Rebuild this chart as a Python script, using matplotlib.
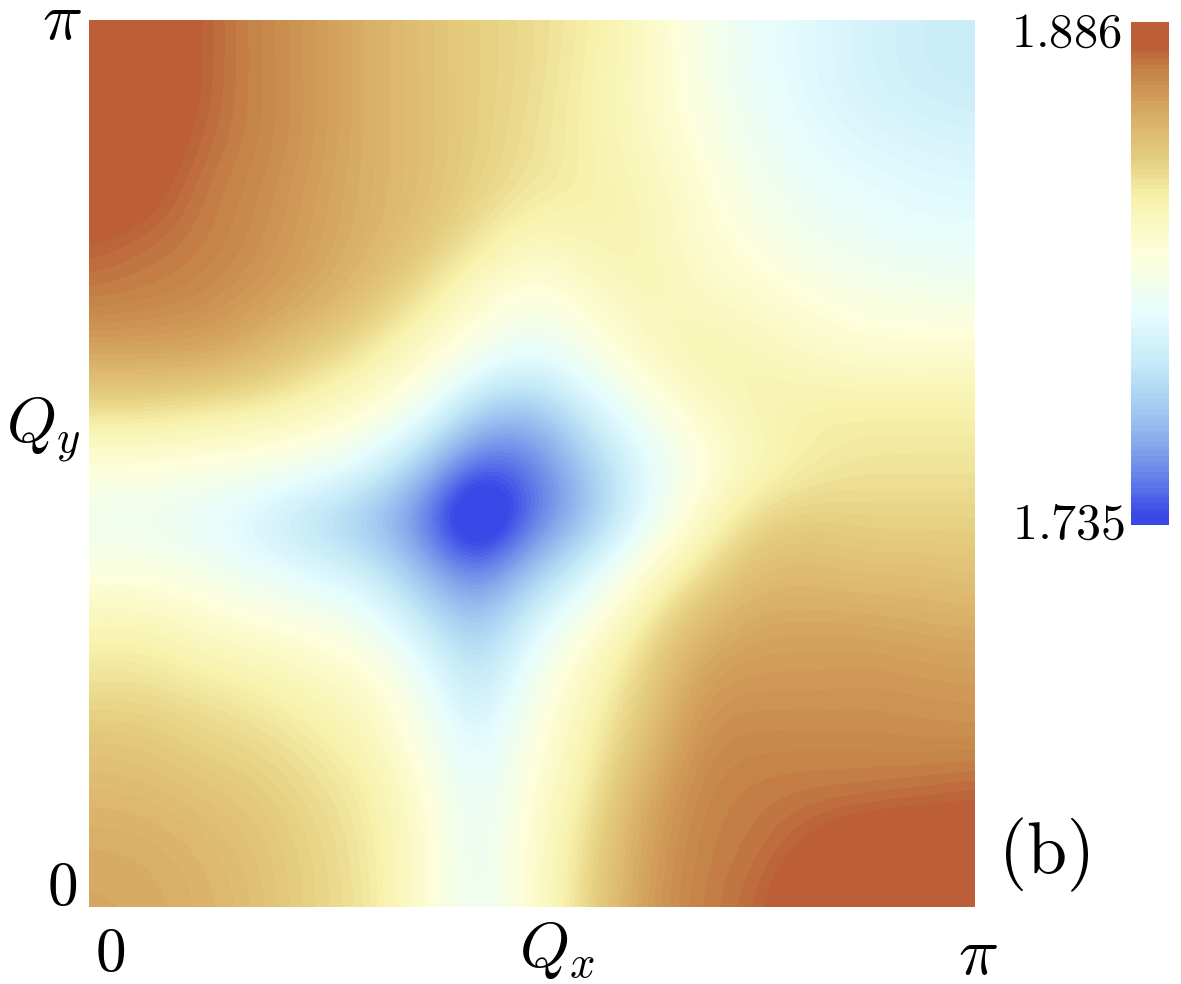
import numpy as np
import matplotlib
matplotlib.use("Agg")
import matplotlib.pyplot as plt
from matplotlib.colors import LinearSegmentedColormap, Normalize

plt.rcParams['mathtext.fontset'] = 'cm'

vmin, vmax = 1.735, 1.886

# scale values (fraction of the colour range), top row = Qy=pi
rows_top_to_bottom = [
 [1.03,1.01,.95,.90,.86,.81,.77,.73,.70,.66,.60,.50,.44,.40,.37,.345,.335],
 [1.03,1.01,.95,.90,.86,.81,.77,.73,.70,.65,.60,.51,.44,.40,.37,.345,.335],
 [1.03,1.00,.94,.90,.86,.81,.77,.73,.69,.65,.60,.53,.46,.415,.39,.375,.365],
 [1.01,.975,.92,.89,.85,.805,.77,.72,.68,.65,.62,.56,.49,.44,.42,.405,.40],
 [.95,.93,.91,.88,.84,.80,.75,.68,.61,.63,.63,.57,.53,.48,.45,.43,.43],
 [.91,.90,.885,.855,.82,.76,.68,.58,.52,.57,.62,.60,.57,.54,.51,.50,.49],
 [.83,.83,.825,.79,.73,.67,.58,.49,.42,.49,.58,.63,.62,.59,.57,.565,.57],
 [.70,.70,.68,.66,.62,.56,.46,.27,.23,.36,.48,.58,.63,.65,.65,.65,.65],
 [.55,.55,.53,.51,.47,.40,.24,.07,.10,.24,.40,.52,.61,.66,.68,.68,.68],
 [.47,.46,.43,.38,.31,.23,.11,-.07,.08,.22,.41,.58,.70,.73,.72,.72,.72],
 [.53,.53,.50,.45,.40,.35,.21,.10,.23,.38,.56,.69,.77,.78,.77,.77,.76],
 [.63,.63,.59,.56,.53,.47,.35,.235,.38,.53,.67,.78,.825,.83,.83,.82,.815],
 [.69,.69,.67,.65,.61,.57,.46,.32,.47,.61,.72,.84,.86,.86,.865,.86,.855],
 [.75,.745,.72,.70,.67,.62,.51,.39,.52,.64,.76,.87,.89,.89,.89,.885,.885],
 [.785,.78,.76,.74,.70,.66,.56,.43,.55,.67,.81,.89,.91,.92,.925,.935,.945],
 [.815,.81,.79,.76,.72,.67,.58,.44,.57,.70,.83,.90,.92,.96,1.0,1.0,1.0],
 [.825,.82,.80,.77,.72,.68,.57,.45,.57,.71,.84,.905,.935,1.0,1.0,1.0,1.0],
]
fraction = np.array(rows_top_to_bottom)

def blur(a):
    # 1-4-1 smoothing along both directions, edges repeated
    k = np.array([1, 4, 1]) / 6
    p = np.pad(a, 1, mode='edge')
    p = np.apply_along_axis(lambda v: np.convolve(v, k, mode='same'), 0, p)
    p = np.apply_along_axis(lambda v: np.convolve(v, k, mode='same'), 1, p)
    return p[1:-1, 1:-1]

# compensate part of the softening that the smooth bicubic resampling brings
fraction = fraction + 0.7 * (fraction - blur(fraction))
energy = vmin + (vmax - vmin) * fraction

cbar_stops = [0, .014, .09, .16, .245, .32, .418, .537, .65, .73, .816, .907, .955, 1]
cbar_colors = ['#3B48E8', '#3B48E8', '#6583E8', '#8AABEC', '#AAD2F2', '#C6EAF8', '#E6FDFD',
               '#FEFFDC', '#F8F3AE', '#E6CF80', '#D9AE66', '#C68548', '#BC5F38', '#BC5F38']
cmap = LinearSegmentedColormap.from_list('map', list(zip(cbar_stops, cbar_colors)), N=96)
norm = Normalize(vmin, vmax)

W, H = 1181, 984
fig = plt.figure(figsize=(W / 100, H / 100), dpi=100, facecolor='white')

def px_axes(l, t, r, b):
    return fig.add_axes([l / W, 1 - b / H, (r - l) / W, (b - t) / H])

ax = px_axes(89, 20, 975, 907)
n = energy.shape[0]
half = np.pi / (n - 1) / 2
ax.imshow(energy, cmap=cmap, norm=norm, interpolation='bicubic', interpolation_stage='data',
          extent=[-half, np.pi + half, -half, np.pi + half], aspect='auto')
ax.set_xlim(0, np.pi)
ax.set_ylim(0, np.pi)
ax.axis('off')

cax = px_axes(1131, 22, 1169, 525)
levels = np.linspace(vmin, vmax, 256).reshape(-1, 1)
cax.imshow(levels, cmap=cmap, norm=norm, origin='lower', aspect='auto',
           extent=[0, 1, vmin, vmax], interpolation='nearest')
cax.axis('off')

labels = [
    (r'$\pi$', 62, 20, 48, 'center'),
    (r'$0$', 62, 888, 44, 'center'),
    (r'$Q_y$', 43, 430, 46, 'center'),
    (r'$0$', 110, 955, 44, 'center'),
    (r'$Q_x$', 557, 950, 46, 'center'),
    (r'$\pi$', 978, 955, 48, 'center'),
    (r'$\mathrm{(b)}$', 1044, 855, 52, 'center'),
    (r'$1.886$', 1122, 33, 35, 'right'),
    (r'$1.735$', 1125, 525, 36, 'right'),
]
for s, x, y, size, ha in labels:
    fig.text(x / W, 1 - y / H, s, fontsize=size, ha=ha, va='center', color='black')

fig.savefig('out.png', dpi=100, facecolor='white')
